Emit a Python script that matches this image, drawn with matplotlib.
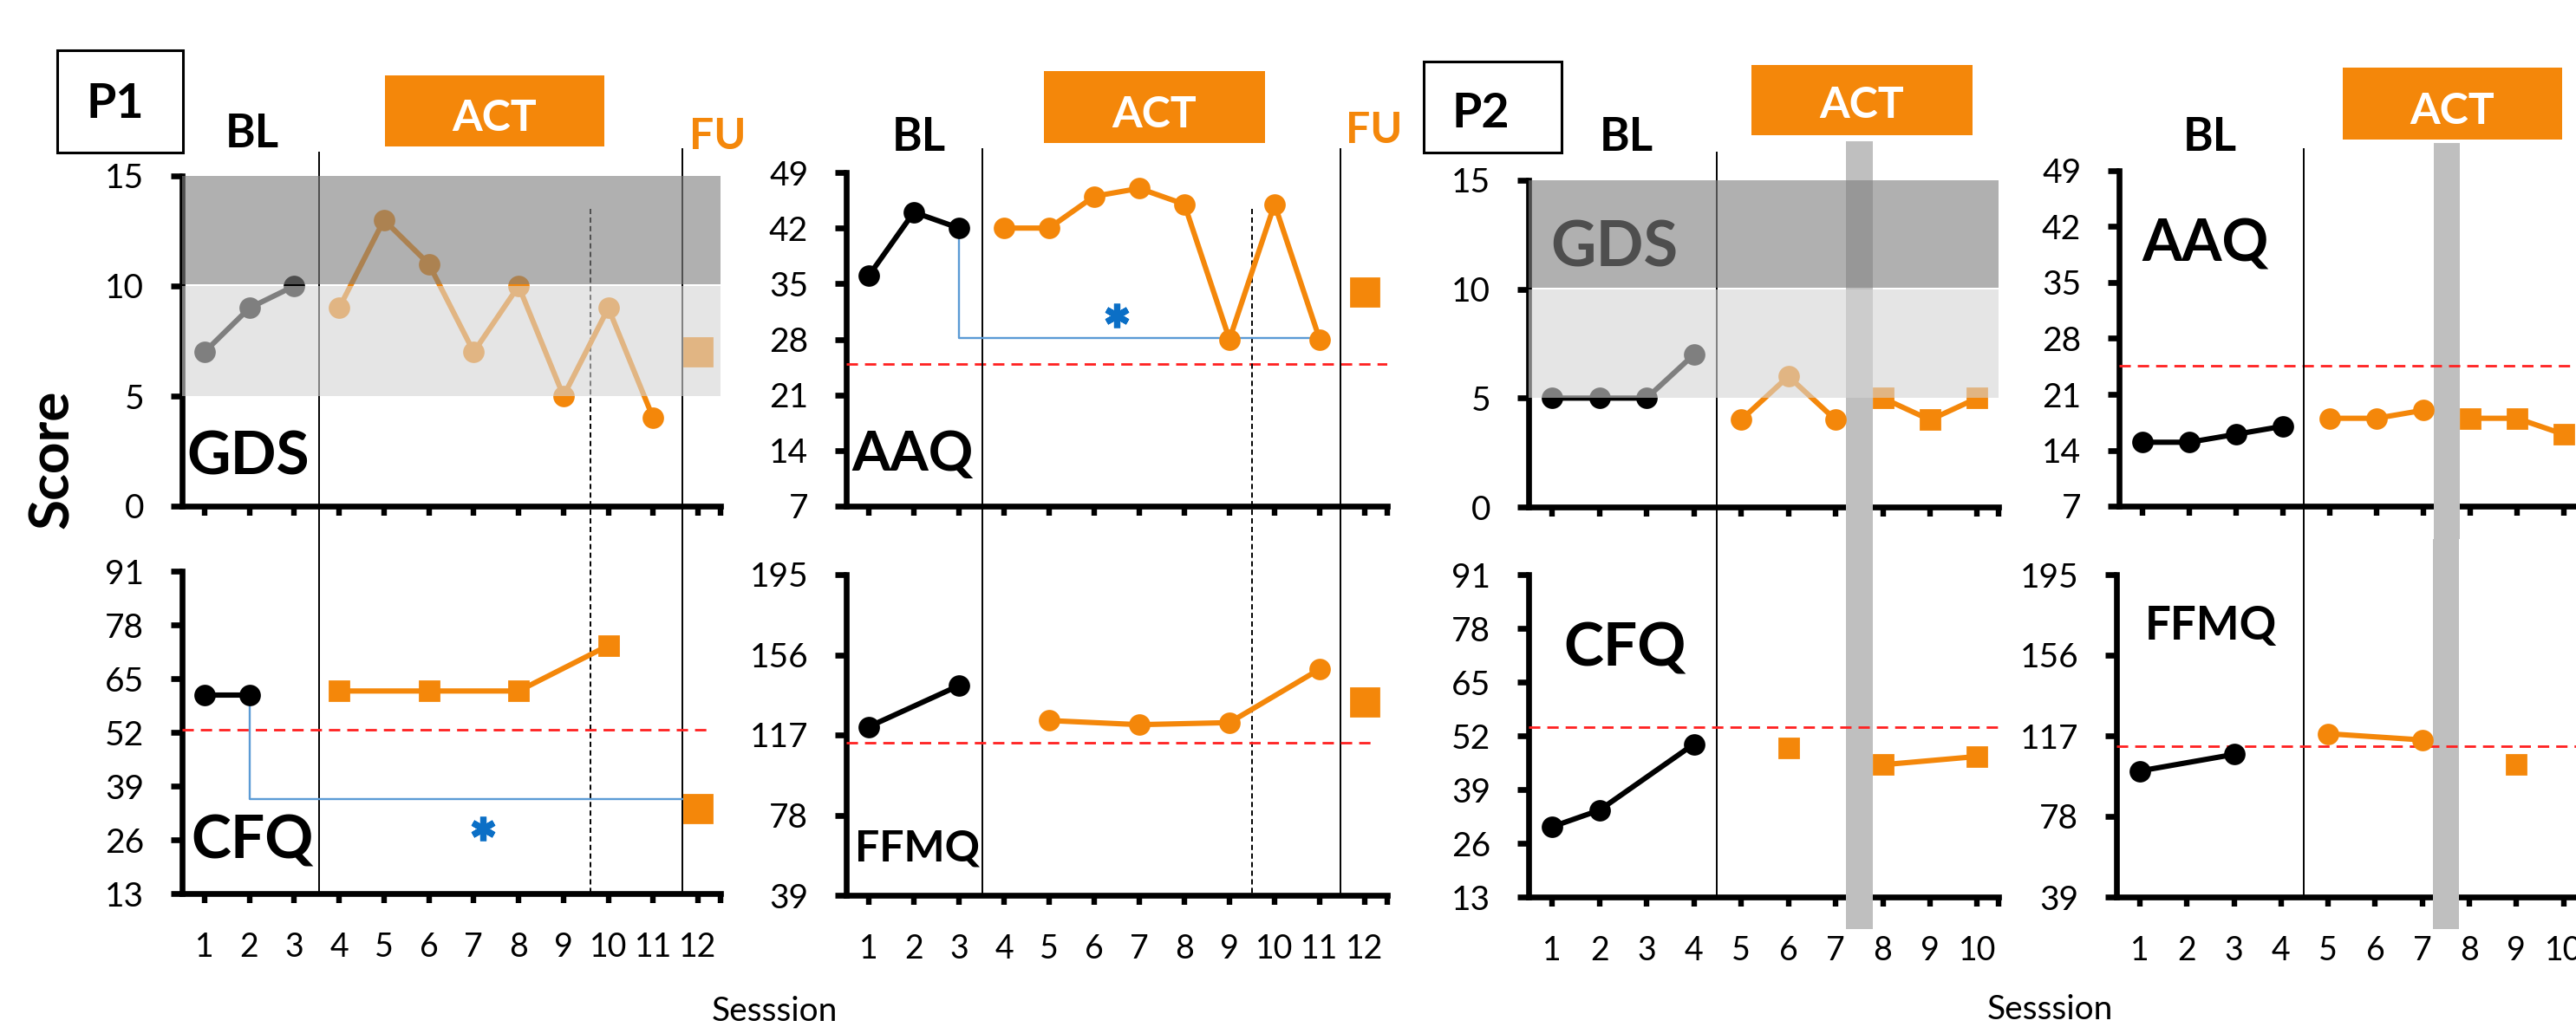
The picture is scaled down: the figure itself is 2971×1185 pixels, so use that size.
import matplotlib
matplotlib.use('Agg')
import matplotlib.pyplot as plt
from matplotlib import transforms
from matplotlib.lines import Line2D
from matplotlib.patches import Rectangle

plt.rcParams['font.family'] = ['Lato', 'DejaVu Sans']

W, H, DPI = 2971, 1185, 200

ORANGE = '#F4870A'
BLUE_LINE = '#5B9BD5'
BLUE_STAR = '#0B6FC6'
RED = '#FF2020'
BAR_GRAY = '#BFBFBF'

# ---------------- participant 1 ----------------
p1_gds_bl_x, p1_gds_bl = [1, 2, 3], [7, 9, 10]
p1_gds_act_x, p1_gds_act = [4, 5, 6, 7, 8, 9, 10, 11], [9, 13, 11, 7, 10, 5, 9, 4]
p1_gds_fu_x, p1_gds_fu = [12], [7]

p1_aaq_bl_x, p1_aaq_bl = [1, 2, 3], [36, 44, 42]
p1_aaq_act_x, p1_aaq_act = [4, 5, 6, 7, 8, 9, 10, 11], [42, 42, 46, 47, 45, 28, 45, 28]
p1_aaq_fu_x, p1_aaq_fu = [12], [34]
p1_aaq_cut = 24.9
p1_aaq_bracket_x, p1_aaq_bracket_y = [3, 3, 11], [42, 28.2, 28.2]
p1_aaq_star = (6.5, 31)

p1_cfq_bl_x, p1_cfq_bl = [1, 2], [61, 61]
p1_cfq_act_x, p1_cfq_act = [4, 6, 8, 10], [62, 62, 62, 73]
p1_cfq_fu_x, p1_cfq_fu = [12], [33.5]
p1_cfq_cut = 52.6
p1_cfq_bracket_x, p1_cfq_bracket_y = [2, 2, 11.7], [61, 35.8, 35.8]
p1_cfq_star = (7.2, 28.8)

p1_ffmq_bl_x, p1_ffmq_bl = [1, 3], [121, 141]
p1_ffmq_act_x, p1_ffmq_act = [5, 7, 9, 11], [124, 122, 123, 149]
p1_ffmq_fu_x, p1_ffmq_fu = [12], [133]
p1_ffmq_cut = 113.3

# phase changes (left pair / right pair of panels)
p1_left_solid, p1_left_dashed = [3.55, 11.65], [9.6]
p1_right_solid, p1_right_dashed = [3.52, 11.46], [9.5]

# ---------------- participant 2 ----------------
p2_gds_bl_x, p2_gds_bl = [1, 2, 3, 4], [5, 5, 5, 7]
p2_gds_act_x, p2_gds_act = [5, 6, 7], [4, 6, 4]
p2_gds_post_x, p2_gds_post = [8, 9, 10], [5, 4, 5]

p2_aaq_bl_x, p2_aaq_bl = [1, 2, 3, 4], [15, 15, 16, 17]
p2_aaq_act_x, p2_aaq_act = [5, 6, 7], [18, 18, 19]
p2_aaq_post_x, p2_aaq_post = [8, 9, 10], [18, 18, 16]
p2_aaq_cut = 24.6

p2_cfq_bl_x, p2_cfq_bl = [1, 2, 4], [30, 34, 50]
p2_cfq_act_x, p2_cfq_act = [6], [49]
p2_cfq_post_x, p2_cfq_post = [8, 10], [45, 47]
p2_cfq_cut = 54

p2_ffmq_bl_x, p2_ffmq_bl = [1, 3], [100, 108]
p2_ffmq_act_x, p2_ffmq_act = [5, 7], [118, 115]
p2_ffmq_post_x, p2_ffmq_post = [9], [103]
p2_ffmq_cut = 111.8

p2_left_solid, p2_right_solid = [4.48], [4.45]
p2_pause_x, p2_pause_w = 7.22, 0.56

gds_ticks = [0, 5, 10, 15]
aaq_ticks = [7, 14, 21, 28, 35, 42, 49]
cfq_ticks = [13, 26, 39, 52, 65, 78, 91]
ffmq_ticks = [39, 78, 117, 156, 195]

fig = plt.figure(figsize=(W / DPI, H / DPI), dpi=DPI)


def fx(x):
    return x / W


def fy(y):
    return 1 - y / H


def add_panel(l, t, r, b):
    ax = fig.add_axes([fx(l), fy(b), (r - l) / W, (b - t) / H])
    ax.set_facecolor('none')
    return ax


def style_axes(ax, xmax, yticks, show_labels):
    n = int(xmax)
    for side in ('top', 'right'):
        ax.spines[side].set_visible(False)
    for side in ('left', 'bottom'):
        ax.spines[side].set_linewidth(2.4)
    ax.set_xlim(0.5, xmax)
    ax.set_ylim(yticks[0], yticks[-1])
    ax.set_yticks(yticks)
    ax.set_xticks(list(range(1, n + 1)) + [xmax])
    if show_labels:
        ax.set_xticklabels([str(i) for i in range(1, n + 1)] + [''])
    else:
        ax.set_xticklabels([])
    ax.tick_params(axis='y', length=4.8, width=2.4, pad=11, labelsize=14)
    ax.tick_params(axis='x', length=3.8, width=2.3, pad=12, labelsize=13.5)


def trace(ax, x, y, color, marker='o', ms=7.9, joined=True):
    ax.plot(x, y, color=color, lw=2.2 if joined else 0, marker=marker, ms=ms,
            zorder=3, clip_on=False)


def cutoff(ax, y, xend):
    ax.hlines(y, 0.5, xend, colors=RED, linestyles=(0, (4.7, 2.9)), lw=1.0, zorder=2.7)


def gds_bands(ax):
    ax.axhspan(5, 10, color=(213 / 255,) * 3, alpha=0.6, lw=0, zorder=4)
    ax.axhspan(10.06, 15, color=(127 / 255,) * 3, alpha=0.616, lw=0, zorder=4)


def phase_lines(ax, xs, tops, bottom, dashed=False):
    tr = transforms.blended_transform_factory(ax.transData, fig.transFigure)
    for x, top in zip(xs, tops):
        ax.add_artist(Line2D([x, x], [fy(top), fy(bottom)], transform=tr, color='black',
                             lw=0.7, ls=(0, (3.1, 2.0)) if dashed else '-',
                             clip_on=False, zorder=2.7))


def pause_bar(ax, top, bottom):
    tr = transforms.blended_transform_factory(ax.transData, fig.transFigure)
    ax.add_artist(Rectangle((p2_pause_x, fy(bottom)), p2_pause_w, fy(top) - fy(bottom),
                            transform=tr, facecolor=BAR_GRAY, lw=0, zorder=2.6,
                            clip_on=False))


def bracket(ax, xs, ys, star):
    ax.plot(xs, ys, color=BLUE_LINE, lw=0.85, zorder=2.8, clip_on=False)
    ax.plot(*star, marker=(6, 2, 0), ms=10, mew=2.6, color=BLUE_STAR, zorder=3)


def scale_name(ax, x, y, s, size):
    ax.text(fx(x), fy(y), s, transform=fig.transFigure, ha='center', va='baseline',
            fontsize=size, fontweight='bold', color='black', zorder=3.5)


def header(x, y, s, size, color='black', weight='bold'):
    fig.text(fx(x), fy(y), s, ha='center', va='baseline', fontsize=size,
             fontweight=weight, color=color)


def box(l, t, r, b, **kw):
    fig.add_artist(Rectangle((fx(l), fy(b)), (r - l) / W, (b - t) / H,
                             transform=fig.transFigure, **kw))


FU_MS = 11.5
SQ_MS = 7.9

# ---- P1 GDS ----
ax = add_panel(210, 203, 831, 584)
style_axes(ax, 12.5, gds_ticks, False)
trace(ax, p1_gds_bl_x, p1_gds_bl, 'black')
trace(ax, p1_gds_act_x, p1_gds_act, ORANGE)
trace(ax, p1_gds_fu_x, p1_gds_fu, ORANGE, 's', FU_MS, False)
gds_bands(ax)
scale_name(ax, 286, 547, 'GDS', 25)
phase_lines(ax, p1_left_solid, [176, 172], 1031)
phase_lines(ax, p1_left_dashed, [241], 1031, dashed=True)

# ---- P1 AAQ ----
ax = add_panel(976, 199, 1600, 584)
style_axes(ax, 12.5, aaq_ticks, False)
cutoff(ax, p1_aaq_cut, 12.5)
bracket(ax, p1_aaq_bracket_x, p1_aaq_bracket_y, p1_aaq_star)
trace(ax, p1_aaq_bl_x, p1_aaq_bl, 'black')
trace(ax, p1_aaq_act_x, p1_aaq_act, ORANGE)
trace(ax, p1_aaq_fu_x, p1_aaq_fu, ORANGE, 's', FU_MS, False)
scale_name(ax, 1052, 543, 'AAQ', 23)
phase_lines(ax, p1_right_solid, [172, 172], 1033)
phase_lines(ax, p1_right_dashed, [241], 1033, dashed=True)

# ---- P1 CFQ ----
ax = add_panel(210, 659, 831, 1031)
style_axes(ax, 12.5, cfq_ticks, True)
cutoff(ax, p1_cfq_cut, 12.2)
bracket(ax, p1_cfq_bracket_x, p1_cfq_bracket_y, p1_cfq_star)
trace(ax, p1_cfq_bl_x, p1_cfq_bl, 'black')
trace(ax, p1_cfq_act_x, p1_cfq_act, ORANGE, 's', SQ_MS)
trace(ax, p1_cfq_fu_x, p1_cfq_fu, ORANGE, 's', FU_MS, False)
scale_name(ax, 291, 991, 'CFQ', 25)

# ---- P1 FFMQ ----
ax = add_panel(976, 663, 1600, 1033)
style_axes(ax, 12.5, ffmq_ticks, True)
cutoff(ax, p1_ffmq_cut, 12.2)
trace(ax, p1_ffmq_bl_x, p1_ffmq_bl, 'black')
trace(ax, p1_ffmq_act_x, p1_ffmq_act, ORANGE)
trace(ax, p1_ffmq_fu_x, p1_ffmq_fu, ORANGE, 's', FU_MS, False)
scale_name(ax, 1058, 993, 'FFMQ', 18)

# ---- P2 GDS ----
ax = add_panel(1763, 208, 2305, 585)
style_axes(ax, 10.45, gds_ticks, False)
pause_bar(ax, 163, 622)
trace(ax, p2_gds_bl_x, p2_gds_bl, 'black')
trace(ax, p2_gds_act_x, p2_gds_act, ORANGE)
trace(ax, p2_gds_post_x, p2_gds_post, ORANGE, 's', SQ_MS)
scale_name(ax, 1862, 308, 'GDS', 26)
gds_bands(ax)
phase_lines(ax, p2_left_solid, [176], 1035)

# ---- P2 AAQ ----
ax = add_panel(2444, 197, 2981, 584)
style_axes(ax, 10.45, aaq_ticks, False)
pause_bar(ax, 165, 622)
cutoff(ax, p2_aaq_cut, 10.45)
trace(ax, p2_aaq_bl_x, p2_aaq_bl, 'black')
trace(ax, p2_aaq_act_x, p2_aaq_act, ORANGE)
trace(ax, p2_aaq_post_x, p2_aaq_post, ORANGE, 's', SQ_MS)
scale_name(ax, 2544, 302, 'AAQ', 24)
phase_lines(ax, p2_right_solid, [172], 1035)

# ---- P2 CFQ ----
ax = add_panel(1763, 663, 2305, 1035)
style_axes(ax, 10.45, cfq_ticks, True)
pause_bar(ax, 622, 1072)
cutoff(ax, p2_cfq_cut, 10.45)
trace(ax, p2_cfq_bl_x, p2_cfq_bl, 'black')
trace(ax, p2_cfq_act_x, p2_cfq_act, ORANGE, 's', SQ_MS, False)
trace(ax, p2_cfq_post_x, p2_cfq_post, ORANGE, 's', SQ_MS)
scale_name(ax, 1874, 769, 'CFQ', 25)

# ---- P2 FFMQ ----
ax = add_panel(2441, 663, 2981, 1035)
style_axes(ax, 10.45, ffmq_ticks, True)
pause_bar(ax, 622, 1072)
cutoff(ax, p2_ffmq_cut, 10.45)
trace(ax, p2_ffmq_bl_x, p2_ffmq_bl, 'black')
trace(ax, p2_ffmq_act_x, p2_ffmq_act, ORANGE)
trace(ax, p2_ffmq_post_x, p2_ffmq_post, ORANGE, 's', SQ_MS, False)
scale_name(ax, 2550, 738, 'FFMQ', 19)

# ---- headers ----
box(66, 58, 211, 176, facecolor='white', edgecolor='black', lw=1.1)
header(133, 136, 'P1', 20)
box(1642, 71, 1801, 176, facecolor='white', edgecolor='black', lw=1.1)
header(1708, 147, 'P2', 20)

for x, y in [(291, 170), (1060, 174), (1876, 174), (2549, 174)]:
    header(x, y, 'BL', 19)

for (l, t, r, b), base in [((444, 87, 697, 169), 151), ((1204, 82, 1459, 165), 147),
                           ((2020, 75, 2275, 156), 136), ((2702, 78, 2955, 161), 143)]:
    box(l, t, r, b, facecolor=ORANGE, lw=0)
    header((l + r) / 2, base, 'ACT', 18, color='white')

header(828, 172, 'FU', 18, color=ORANGE)
header(1585, 165, 'FU', 18, color=ORANGE)

fig.text(fx(61), fy(530), 'Score', rotation=90, ha='center', va='center',
         fontsize=23, fontweight='bold')
header(893, 1178, 'Sesssion', 14, weight='normal')
header(2364, 1176, 'Sesssion', 14, weight='normal')

fig.savefig('out.png', dpi=DPI)
